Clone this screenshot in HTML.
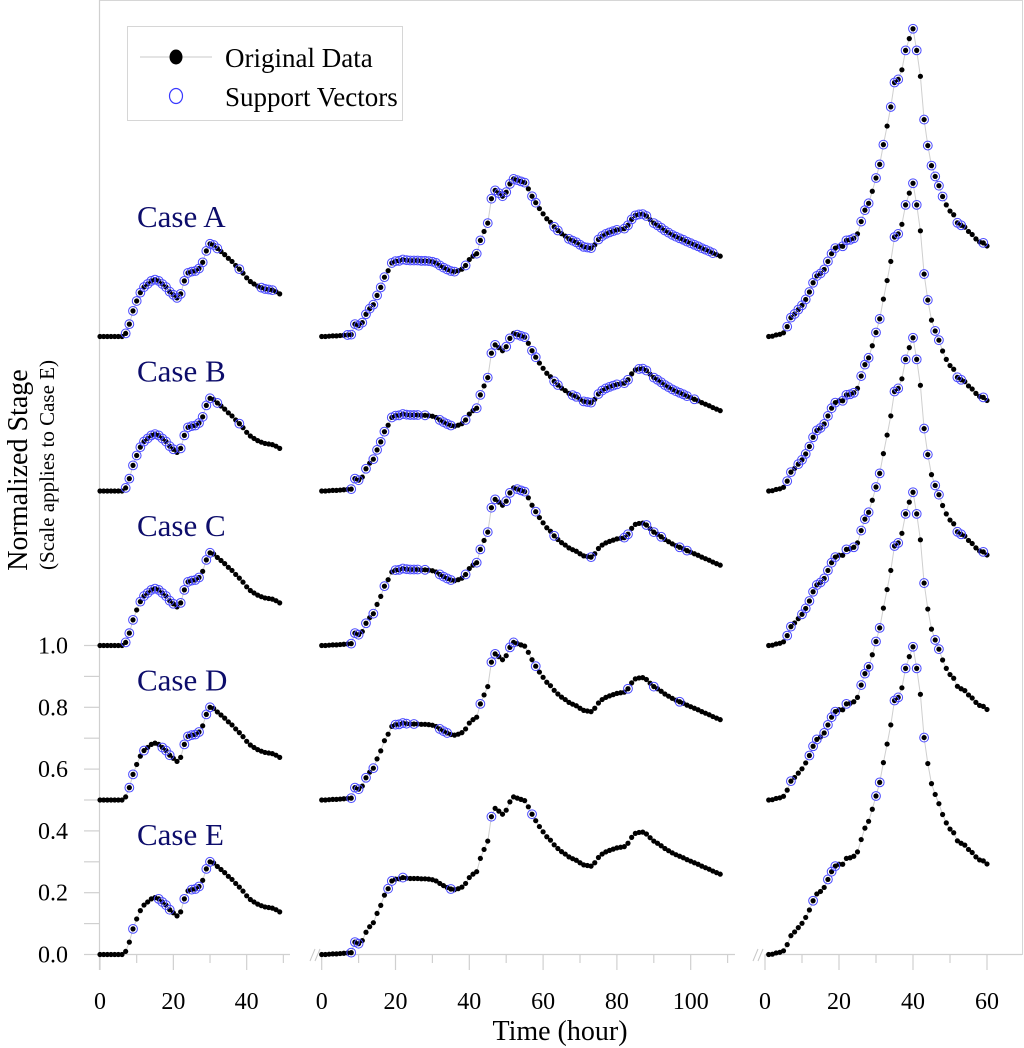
<!DOCTYPE html>
<html><head><meta charset="utf-8">
<style>
html,body{margin:0;padding:0;background:#fff;}
svg{display:block;font-family:"Liberation Serif",serif;}
</style></head>
<body>
<svg id="chart" width="1024" height="1048" viewBox="0 0 1024 1048" xmlns="http://www.w3.org/2000/svg">
  <g id="frame">
    <line x1="99.5" y1="0.5" x2="1022.5" y2="0.5" stroke="#d6d6d6" stroke-width="1"/>
    <line x1="1022.5" y1="0" x2="1022.5" y2="955" stroke="#d6d6d6" stroke-width="1"/>
    <line x1="99.5" y1="0" x2="99.5" y2="970" stroke="#d0d0d0" stroke-width="1.2"/>
  </g>
  <g id="yaxis"></g>
  <g id="xaxis"></g>
  <g id="series"></g>
  <g id="labels"></g>
  <g id="legend">
    <rect x="127.5" y="26.5" width="275" height="94" fill="#fff" stroke="#d6d6d6" stroke-width="1"/>
    <g>
      <line x1="140" y1="57" x2="212" y2="57" stroke="#c8c8c8" stroke-width="1"/>
      <ellipse cx="176" cy="57" rx="6.5" ry="7.5" fill="#000"/>
      <text x="225" y="67" font-size="27" fill="#000">Original Data</text>
    </g>
    <g>
      <ellipse cx="176" cy="96" rx="6.5" ry="7.5" fill="none" stroke="#3a3aff" stroke-width="1.2"/>
      <text x="225" y="106" font-size="27" fill="#000">Support Vectors</text>
    </g>
  </g>
  <text transform="translate(27,470) rotate(-90)" text-anchor="middle" font-size="28" fill="#000">Normalized Stage</text>
  <text transform="translate(54,465) rotate(-90)" text-anchor="middle" font-size="21" fill="#000">(Scale applies to Case E)</text>
  <text x="560" y="1040" text-anchor="middle" font-size="28" fill="#000">Time (hour)</text>
</svg>
<script>
// ---- data (Case E values; other cases are offset copies) ----
const caseNames = ["Case A","Case B","Case C","Case D","Case E"];
const caseOffsets = [2.0, 1.5, 1.0, 0.5, 0.0];
const panel1Start = 0;
const panel1Values = [0,0,0,0,0,0,0,0.01,0.04,0.083,0.115,0.142,0.16,0.17,0.18,0.184,0.18,0.17,0.16,0.145,0.135,0.125,0.138,0.18,0.206,0.21,0.212,0.22,0.24,0.277,0.30,0.296,0.285,0.275,0.265,0.253,0.243,0.23,0.218,0.205,0.19,0.178,0.17,0.163,0.158,0.154,0.152,0.15,0.145,0.138];
const panel2Start = 0;
const panel2Values = [0,0,0.001,0.002,0.002,0.003,0.004,0.005,0.006,0.04,0.035,0.045,0.072,0.09,0.103,0.133,0.159,0.192,0.213,0.238,0.244,0.245,0.249,0.247,0.246,0.246,0.246,0.245,0.245,0.244,0.242,0.238,0.23,0.223,0.217,0.212,0.21,0.213,0.218,0.23,0.249,0.26,0.268,0.311,0.34,0.367,0.446,0.473,0.464,0.454,0.467,0.494,0.51,0.506,0.502,0.498,0.478,0.454,0.433,0.414,0.397,0.381,0.37,0.355,0.343,0.333,0.325,0.316,0.31,0.305,0.297,0.29,0.288,0.286,0.297,0.314,0.325,0.332,0.337,0.341,0.345,0.347,0.349,0.36,0.379,0.392,0.395,0.396,0.39,0.378,0.367,0.36,0.352,0.343,0.336,0.329,0.323,0.318,0.313,0.307,0.302,0.297,0.292,0.286,0.281,0.276,0.27,0.265,0.26];
const panel3Start = 1;
const panel3Values = [0,0.001,0.005,0.007,0.012,0.032,0.061,0.073,0.087,0.101,0.12,0.144,0.174,0.196,0.204,0.217,0.243,0.268,0.286,0.292,0.292,0.311,0.313,0.318,0.332,0.372,0.409,0.431,0.47,0.513,0.557,0.621,0.681,0.743,0.822,0.832,0.863,0.926,0.964,0.996,0.926,0.842,0.702,0.618,0.553,0.518,0.488,0.453,0.426,0.406,0.394,0.368,0.36,0.354,0.34,0.33,0.316,0.306,0.303,0.293];
// support vector hours per case (A..E) per panel
const sv1 = [
 [7,8,9,10,11,12,13,14,15,16,17,18,19,20,21,22,23,24,25,26,27,28,29,30,31,32,38,44,45,46,47],
 [7,8,9,10,11,12,13,14,15,16,17,18,19,20,22,23,24,25,26,27,28,29,30,32,38],
 [7,8,9,11,12,13,14,15,16,17,18,19,20,22,23,24,25,26,27,29,30],
 [8,9,12,17,18,19,23,24,25,26,27,29,30],
 [9,16,17,18,19,23,25,26,27,29,30]
];
const sv2 = [
 [7,8,9,10,11,12,13,14,15,16,17,19,20,21,22,23,24,25,26,27,28,29,30,31,32,33,34,35,36,39,42,43,45,46,47,48,49,50,51,52,53,54,55,57,58,63,64,67,68,69,70,71,72,73,75,76,77,78,79,80,82,83,84,85,86,87,88,90,91,92,93,94,95,96,97,98,99,100,101,102,103,104,105,106],
 [8,9,10,12,14,15,16,17,19,20,21,22,23,24,25,26,28,32,33,34,35,39,42,43,45,46,47,50,51,53,54,55,57,58,63,64,68,69,71,72,73,75,76,77,78,79,80,82,83,86,87,88,90,91,92,93,94,95,96,97,98,99,101],
 [8,9,10,12,14,17,20,21,22,23,24,25,26,28,32,33,34,35,39,42,43,45,46,47,50,51,53,54,55,58,63,73,82,83,88,90,92,97,99],
 [8,9,10,12,14,20,21,22,23,25,32,33,34,43,46,47,51,52,58,83,90,97],
 [8,9,10,18,19,22,35,46,57]
];
const sv3 = [
 [6,7,8,9,10,11,12,13,14,15,16,17,18,19,21,22,23,24,26,27,28,30,31,32,34,35,36,38,40,41,43,44,45,46,47,48,52,53,59],
 [6,7,9,10,11,12,13,14,15,16,17,18,19,21,22,23,24,26,27,28,30,31,35,36,38,40,41,43,44,46,47,52,53,59],
 [6,7,10,11,12,13,14,15,16,17,18,19,22,24,26,27,28,30,31,35,36,38,40,41,43,44,46,47,52,53,59],
 [7,12,13,14,16,17,18,19,22,26,27,28,30,31,35,36,38,40,41,43,46,47],
 [13,17,18,19,30,31,35,36,38,40,41,43]
];
const yTickValues = [0.0,0.2,0.4,0.6,0.8,1.0];
const yTickLabels = ["0.0","0.2","0.4","0.6","0.8","1.0"];
const xTicks1 = [0,20,40];
const xTicks2 = [0,20,40,60,80,100];
const xTicks3 = [0,20,40,60];

// ---- scales ----
const NS = "http://www.w3.org/2000/svg";
function yScale(v){ return 954.5 - 309*v; }
const panels = [
  {x0:100, k:3.667, start:panel1Start, vals:panel1Values, sv:sv1, ticks:xTicks1, axEnd:290, axStart:100, brk:null},
  {x0:321.7, k:3.69, start:panel2Start, vals:panel2Values, sv:sv2, ticks:xTicks2, axEnd:735, axStart:321.7, brk:315},
  {x0:765, k:3.7, start:panel3Start, vals:panel3Values, sv:sv3, ticks:xTicks3, axEnd:1022, axStart:765, brk:758}
];
function mk(tag, attrs, parent){ const e=document.createElementNS(NS,tag); for(const a in attrs) e.setAttribute(a,attrs[a]); parent.appendChild(e); return e; }

// y axis
const yg = document.getElementById('yaxis');
for(let i=0;i<=10;i++){
  const y = yScale(i/10);
  const t = mk('line',{x1:84,y1:y,x2:99.5,y2:y,stroke:'#d0d0d0','stroke-width':1.2},yg);
  
  
}
yTickValues.forEach((v,i)=>{
  const t = mk('text',{x:68,y:yScale(v)+8,'text-anchor':'end','font-size':24,fill:'#000'},yg);
  t.textContent = yTickLabels[i];
  
  
});

// x axes
const xg = document.getElementById('xaxis');
panels.forEach((p,pi)=>{
  const ax = mk('line',{x1:p.axStart,y1:954.5,x2:p.axEnd,y2:954.5,stroke:'#d0d0d0','stroke-width':1.2},xg);
  
  
  if(p.brk){
    const b = mk('path',{d:`M${p.brk-5},${961} L${p.brk},${949} M${p.brk},${961} L${p.brk+5},${949}`,stroke:'#c8c8c8','stroke-width':1,fill:'none'},xg);
    
    
  }
  for(let h=0; p.x0+h*p.k<=p.axEnd+1; h+=10){
    const x = p.x0+h*p.k;
    const major = h%20===0;
    const t = mk('line',{x1:x,y1:954.5,x2:x,y2:major?970:963,stroke:'#d0d0d0','stroke-width':1.2},xg);
    
    
  }
  p.ticks.forEach(h=>{
    const t = mk('text',{x:p.x0+h*p.k,y:1009,'text-anchor':'middle','font-size':24,fill:'#000'},xg);
    t.textContent = String(h);
    
    
  });
});

// series
const sg = document.getElementById('series');
caseNames.forEach((name,ci)=>{
  const off = caseOffsets[ci];
  const cg = mk('g',{},sg);
  
  
  panels.forEach((p,pi)=>{
    const pts = p.vals.map((v,i)=>[p.x0+(p.start+i)*p.k, yScale(v+off)]);
    const line = mk('polyline',{points:pts.map(q=>q[0].toFixed(1)+','+q[1].toFixed(1)).join(' '),fill:'none',stroke:'#cfcfcf','stroke-width':1},cg);
    
    
    pts.forEach(q=>{
      const c = mk('circle',{cx:q[0],cy:q[1],r:2.6,fill:'#000'},cg);
      
      
    });
    p.sv[ci].forEach(h=>{
      const i = h - p.start;
      if(i<0||i>=p.vals.length) return;
      const c = mk('circle',{cx:p.x0+h*p.k,cy:yScale(p.vals[i]+off),r:4.4,fill:'none',stroke:'#4a4aff','stroke-width':1},cg);
      
      
    });
  });
  const lab = mk('text',{x:137,y:227+ci*154.5,'font-size':31,fill:'#0d0d6b'},document.getElementById('labels'));
  lab.textContent = name;
  
  
});
</script>
</body></html>
